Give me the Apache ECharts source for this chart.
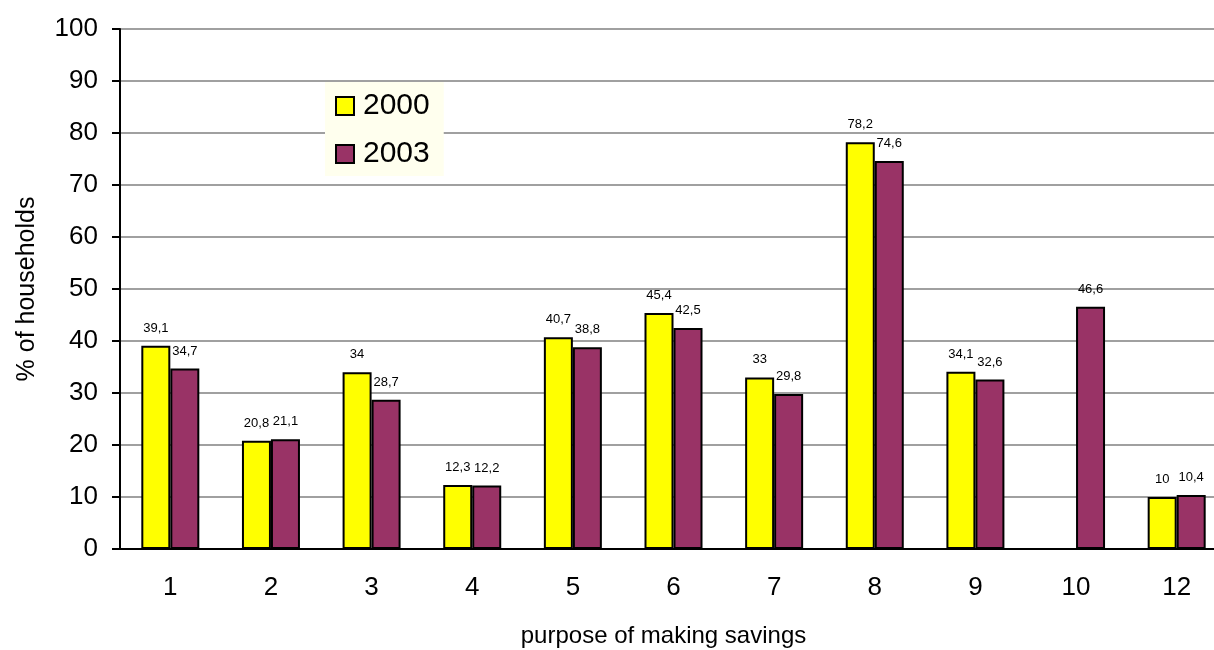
<!DOCTYPE html>
<html>
<head>
<meta charset="utf-8">
<script src="https://cdn.jsdelivr.net/npm/echarts@6/dist/echarts.min.js"></script>
<style>
  html, body { margin: 0; padding: 0; background: #fff; }
  #chart { width: 1214px; height: 650px; }
</style>
</head>
<body>
<div id="chart"></div>
<script>
// purpose of making savings (there is no 11 in the source)
var categories = ['1', '2', '3', '4', '5', '6', '7', '8', '9', '10', '12'];
var values2000 = [39.1, 20.8, 34, 12.3, 40.7, 45.4, 33, 78.2, 34.1, null, 10];
var values2003 = [34.7, 21.1, 28.7, 12.2, 38.8, 42.5, 29.8, 74.6, 32.6, 46.6, 10.4];
var yTicks = [0, 10, 20, 30, 40, 50, 60, 70, 80, 90, 100];

var font = '"Liberation Sans", Arial, sans-serif';

// decimal comma like the original
function commaLabel(p) {
  return String(p.value).replace('.', ',');
}

var chart = echarts.init(document.getElementById('chart'));

chart.setOption({
  animation: false,
  textStyle: { fontFamily: font },
  // the last category runs past the right edge in the original, so keep the grid fixed
  grid: { left: 120, top: 29, width: 1107, height: 520, containLabel: false, outerBoundsMode: 'none' },
  legend: {
    left: 325, top: 82,
    orient: 'vertical',
    backgroundColor: '#FFFFEE',
    padding: [9, 14, 7, 10],
    itemGap: 18,
    itemWidth: 18, itemHeight: 18,
    icon: 'rect',
    itemStyle: { borderColor: '#000', borderWidth: 2 },
    textStyle: { fontSize: 30, color: '#000', fontFamily: font, padding: [0, 0, 0, 4] },
    data: ['2000', '2003']
  },
  xAxis: {
    type: 'category',
    data: categories,
    name: 'purpose of making savings',
    nameLocation: 'middle',
    nameGap: 75,
    nameTextStyle: { fontSize: 24, color: '#000', padding: [0, 0, 0, -20] },
    axisLine: { lineStyle: { color: '#000', width: 2 } },
    axisTick: { length: 7, lineStyle: { color: '#000', width: 2 } },
    axisLabel: { fontSize: 26, color: '#000', margin: 26 }
  },
  yAxis: {
    type: 'value',
    min: yTicks[0], max: yTicks[yTicks.length - 1], interval: 10,
    name: '% of households',
    nameLocation: 'middle',
    nameGap: 80,
    nameTextStyle: { fontSize: 25, color: '#000' },
    axisLine: { show: true, lineStyle: { color: '#000', width: 2 } },
    axisTick: { show: true, length: 8, lineStyle: { color: '#000', width: 2 } },
    axisLabel: { fontSize: 26, color: '#000', margin: 22 },
    splitLine: { lineStyle: { color: '#808080', width: 1.5 } }
  },
  series: [
    {
      name: '2000',
      type: 'bar',
      data: values2000,
      barWidth: 29,
      barGap: '0%',
      itemStyle: { color: '#FFFF00', borderColor: '#000', borderWidth: 2 },
      label: { show: true, position: 'top', distance: 11, fontSize: 13, color: '#000', formatter: commaLabel }
    },
    {
      name: '2003',
      type: 'bar',
      data: values2003,
      barWidth: 29,
      barGap: '0%',
      itemStyle: { color: '#993366', borderColor: '#000', borderWidth: 2 },
      label: { show: true, position: 'top', distance: 11, fontSize: 13, color: '#000', formatter: commaLabel }
    }
  ]
});
</script>
</body>
</html>
